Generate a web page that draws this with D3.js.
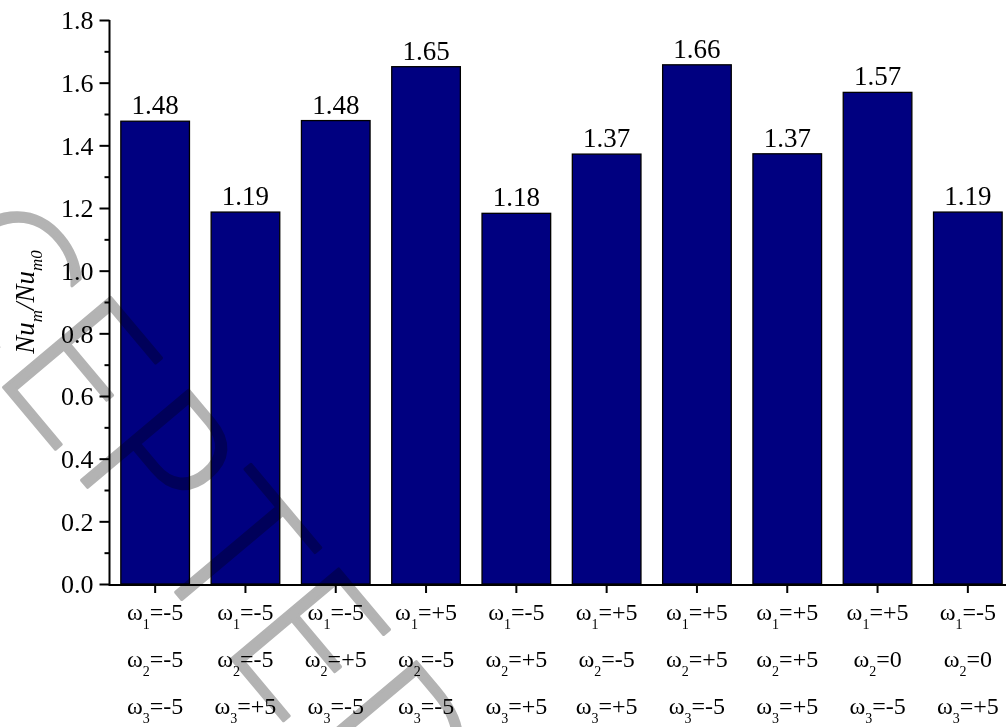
<!DOCTYPE html>
<html><head><meta charset="utf-8">
<script src="https://cdn.jsdelivr.net/npm/d3@7"></script>
<style>
html,body{margin:0;padding:0;background:#fff;}
svg{display:block;}
.serif{font-family:"Liberation Serif","Tinos","Times New Roman","DejaVu Serif",serif;}
</style></head>
<body>
<svg id="chart" width="1006" height="727"></svg>
<script>
const categories = [0,1,2,3,4,5,6,7,8,9];
const omega1 = ["-5","-5","-5","+5","-5","+5","+5","+5","+5","-5"];
const omega2 = ["-5","-5","+5","-5","+5","-5","+5","+5","0","0"];
const omega3 = ["-5","+5","-5","-5","+5","+5","-5","+5","-5","+5"];
const values = [1.477,1.187,1.479,1.651,1.183,1.372,1.657,1.373,1.569,1.187];
const valueLabels = ["1.48","1.19","1.48","1.65","1.18","1.37","1.66","1.37","1.57","1.19"];
const yTicks = [0,0.2,0.4,0.6,0.8,1.0,1.2,1.4,1.6,1.8];
const yMinor = [0.1,0.3,0.5,0.7,0.9,1.1,1.3,1.5,1.7];

const svg = d3.select("#chart");

const x = d3.scaleBand().domain(categories).range([110,1013]).paddingInner(0.24).paddingOuter(0.12);
const y = d3.scaleLinear().domain([0,1.8]).range([584,20]);

// bars
svg.append("g").selectAll("rect").data(values).join("rect")
  .attr("x",(d,i)=>x(i)).attr("width",x.bandwidth())
  .attr("y",d=>y(d)).attr("height",d=>y(0)-y(d))
  .attr("fill","#000080").attr("stroke","#000").attr("stroke-width",1.3);

// value labels
svg.append("g").selectAll("text").data(values).join("text")
  .attr("class","serif")
  .attr("x",(d,i)=>x(i)+x.bandwidth()/2).attr("y",d=>y(d)-7)
  .attr("text-anchor","middle").attr("font-size",27)
  .attr("fill","#000").text((d,i)=>valueLabels[i]);

// y axis
const yAxis = d3.axisLeft(y).tickValues(yTicks).tickFormat(d3.format(".1f")).tickSize(10).tickPadding(6);
const gy = svg.append("g").attr("transform","translate(109.5,0)").call(yAxis);
gy.attr("font-family",null);
gy.select(".domain").attr("stroke-width",2).attr("d","M0,"+y(1.8)+"V"+y(0));
gy.selectAll(".tick line").attr("stroke-width",2);
gy.selectAll(".tick text").attr("class","serif").attr("font-size",26).attr("fill","#000").attr("dy","0.34em");
const yAxisMinor = d3.axisLeft(y).tickValues(yMinor).tickFormat("").tickSize(5);
const gym = svg.append("g").attr("transform","translate(109.5,0)").call(yAxisMinor);
gym.select(".domain").remove();
gym.selectAll(".tick line").attr("stroke-width",2);

// x axis
const xAxis = d3.axisBottom(x).tickSize(8).tickFormat("");
const gx = svg.append("g").attr("transform","translate(0,585)").call(xAxis);
gx.select(".domain").attr("stroke-width",2.2).attr("d","M108.5,0H1013");
gx.selectAll(".tick line").attr("stroke-width",2);

// x category labels (3 rows)
const rows = [omega1, omega2, omega3];
const rowY = [620, 666.5, 713.5];
rows.forEach((arr, r) => {
  const t = svg.append("g").selectAll("text").data(categories).join("text")
    .attr("class","serif")
    .attr("x",d=>x(d)+x.bandwidth()/2).attr("y",rowY[r])
    .attr("text-anchor","middle").attr("font-size",24).attr("fill","#000");
  t.append("tspan").text("\u03c9");
  t.append("tspan").attr("font-size",14).attr("dy",9).text(String(r+1));
  t.append("tspan").attr("dy",-9).text(d=>"="+arr[d]);
});

// y title
const yt = svg.append("text")
  .attr("class","serif")
  .attr("transform","translate(34,302) rotate(-90)")
  .attr("text-anchor","middle").attr("font-style","italic")
  .attr("font-size",27).attr("fill","#000");
yt.append("tspan").text("Nu");
yt.append("tspan").attr("font-size",17).attr("dy",8).text("m");
yt.append("tspan").attr("dy",-8).text("/Nu");
yt.append("tspan").attr("font-size",17).attr("dy",8).text("m0");

// watermark
svg.append("text")
  .attr("transform","translate(-266,66) rotate(50)")
  .attr("font-family","DejaVu Sans").attr("font-weight",200)
  .attr("font-size",192).attr("fill","#b3b3b3")
  .attr("stroke","#b3b3b3").attr("stroke-width",3).attr("stroke-linejoin","round")
  .style("mix-blend-mode","multiply")
  .text("ACCEPTED");
</script>
</body></html>
